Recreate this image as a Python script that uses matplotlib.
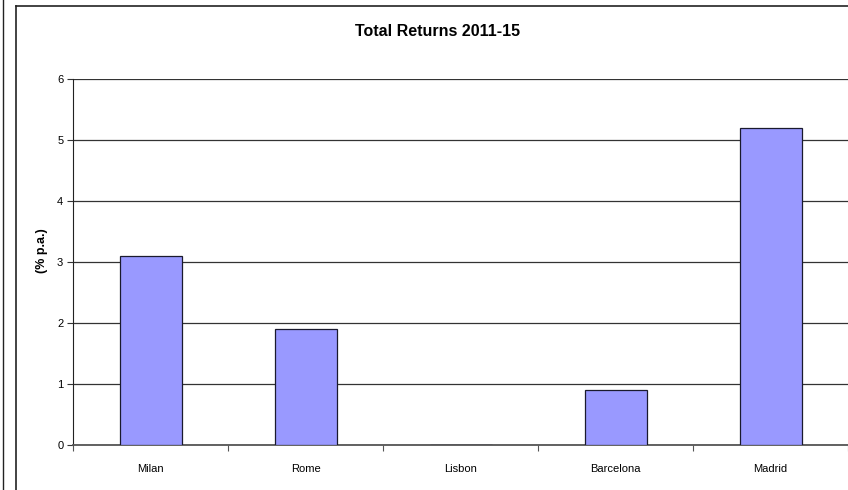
import matplotlib
matplotlib.use("Agg")
import matplotlib.pyplot as plt
from matplotlib.lines import Line2D
import numpy as np

plt.rcParams['font.family'] = ['Liberation Sans', 'DejaVu Sans']

cities = ["Milan", "Rome", "Lisbon", "Barcelona", "Madrid"]
returns = [3.1, 1.9, 0.0, 0.9, 5.2]
y_ticks = [0, 1, 2, 3, 4, 5, 6]

fig = plt.figure(figsize=(8.48, 4.90), dpi=100)
ax = fig.add_axes([73 / 848, 45 / 490, 775 / 848, 366 / 490])

x = np.arange(len(cities))
ax.bar(x, returns, width=0.4, color="#9999ff", edgecolor="#1a1a2e", linewidth=0.9, zorder=3)

ax.set_xlim(-0.5, len(cities) - 0.5)
ax.set_ylim(0, 6)
ax.set_yticks(y_ticks)
ax.set_yticklabels([str(t) for t in y_ticks], fontsize=8)

# category boundaries carry the tick marks, names sit between them
ax.set_xticks(np.arange(len(cities) + 1) - 0.5)
ax.set_xticklabels([])
ax.set_xticks(x, minor=True)
ax.set_xticklabels(cities, minor=True, fontsize=8)
ax.tick_params(axis="x", which="minor", length=0, pad=14)
ax.tick_params(axis="x", which="major", length=4, color="#555555")
ax.tick_params(axis="y", length=4, color="#333333", pad=3)

ax.grid(axis="y", color="#333333", linewidth=0.9, zorder=1)
for side in ("top", "right"):
    ax.spines[side].set_visible(False)
ax.spines["left"].set_color("#222222")
ax.spines["bottom"].set_color("#555555")
ax.spines["bottom"].set_linewidth(1.3)

ax.set_ylabel("(% p.a.)", fontsize=9, fontweight="bold")
ax.yaxis.set_label_coords(-25 / 775, 0.53)
fig.text(438 / 848, 1 - 31 / 490, "Total Returns 2011-15", ha="center", va="center",
         fontsize=11.5, fontweight="bold")

# outer chart frame and the neighbouring edge on the left
fig.add_artist(Line2D([16 / 848, 16 / 848], [0, 1 - 6 / 490], color="#222222", lw=1.2))
fig.add_artist(Line2D([16 / 848, 1], [1 - 6 / 490, 1 - 6 / 490], color="#222222", lw=1.2))
fig.add_artist(Line2D([3 / 848, 3 / 848], [0, 1], color="#222222", lw=1.0))

fig.savefig("out.png", dpi=100)
